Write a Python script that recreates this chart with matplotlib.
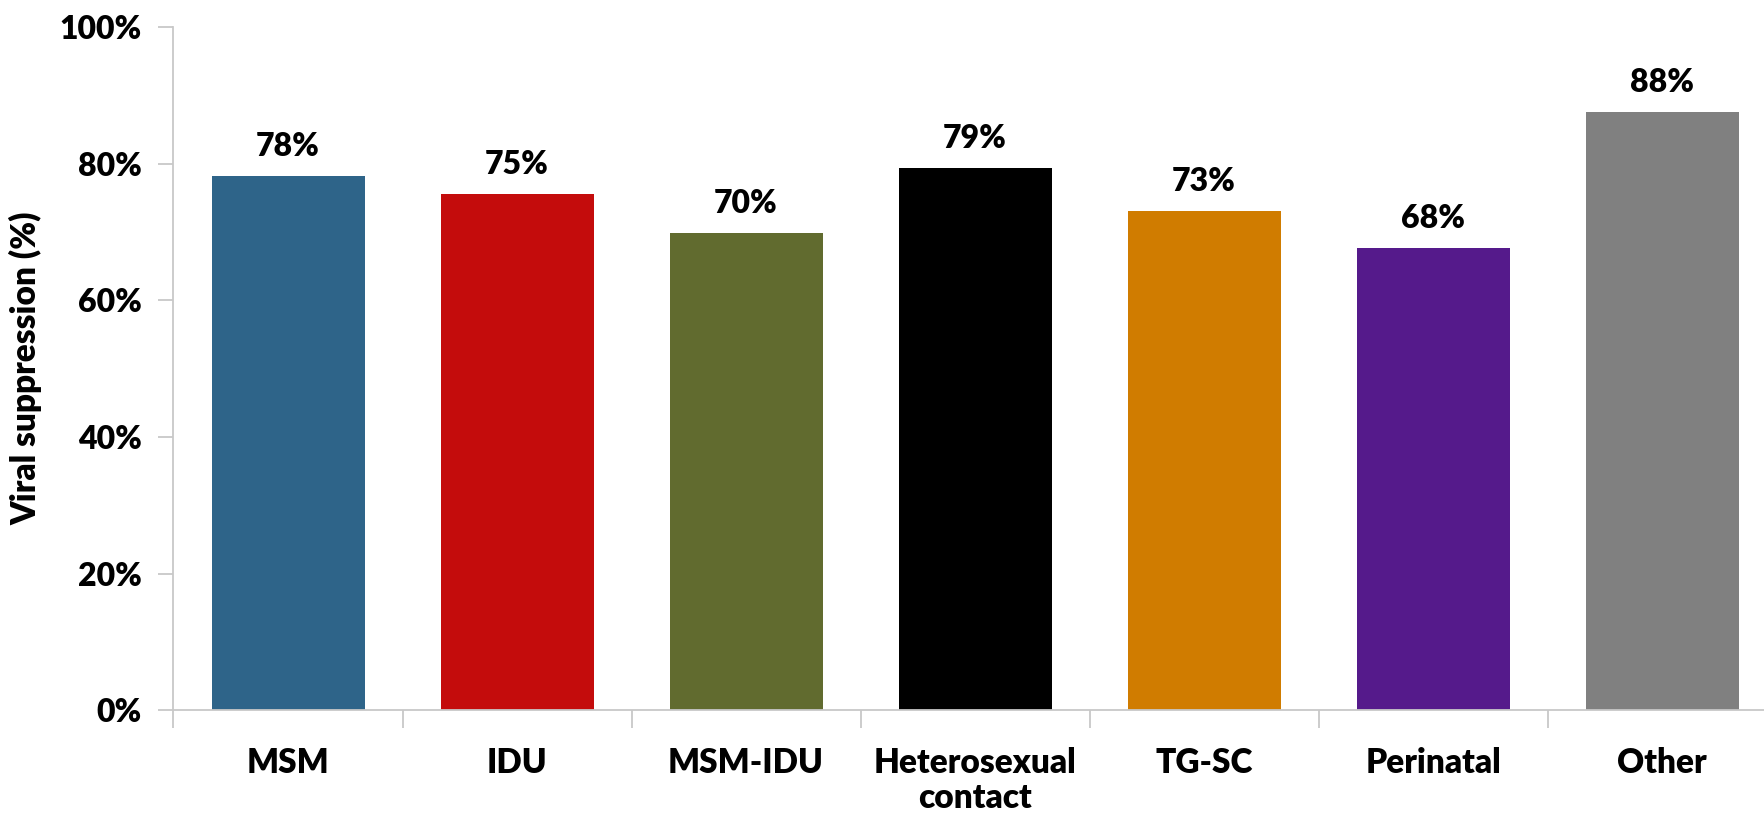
import matplotlib
matplotlib.use('Agg')
import matplotlib.pyplot as plt
from matplotlib.ticker import FuncFormatter, FixedLocator

# categories and viral suppression (%)
groups = ['MSM', 'IDU', 'MSM-IDU', 'Heterosexual\ncontact', 'TG-SC', 'Perinatal', 'Other']
suppr = [78.2, 75.5, 69.8, 79.4, 73.1, 67.6, 87.6]
labels = ['78%', '75%', '70%', '79%', '73%', '68%', '88%']
colors = ['#2E6489', '#C40C0C', '#616B2F', '#000000', '#D07C00', '#551A8B', '#808080']

plt.rcParams['font.family'] = ['Lato', 'DejaVu Sans']
W = 'heavy'

fig = plt.figure(figsize=(17.65, 8.16), dpi=100)
ax = fig.add_axes([0.0983, 0.1294, 0.9083, 0.8375])

x = list(range(len(groups)))
ax.bar(x, suppr, width=0.668, color=colors, zorder=2)
for xi, v, lab in zip(x, suppr, labels):
    ax.text(xi, v + 2.2, lab, ha='center', va='bottom', fontsize=23, fontweight=W)

ax.set_xlim(-0.5, len(groups) - 0.5)
ax.set_ylim(0, 100)
ax.set_yticks([0, 20, 40, 60, 80, 100])
ax.yaxis.set_major_formatter(FuncFormatter(lambda v, p: '%d%%' % v))
ax.set_xticks(x)
ax.set_xticklabels(groups, fontsize=24, fontweight=W, linespacing=1.15)
ax.xaxis.set_minor_locator(FixedLocator([i - 0.5 for i in range(len(groups) + 1)]))
ax.tick_params(axis='x', which='major', length=0, pad=26)
ax.tick_params(axis='x', which='minor', length=13, color='#C8C8C8', width=1.3)
ax.tick_params(axis='y', length=11, color='#C8C8C8', width=1.3, labelsize=23, pad=12)
for lab in ax.get_yticklabels():
    lab.set_fontweight(W)

for s in ['top', 'right']:
    ax.spines[s].set_visible(False)
for s in ['left', 'bottom']:
    ax.spines[s].set_color('#C8C8C8')
    ax.spines[s].set_linewidth(1.3)

ax.set_ylabel('Viral suppression (%)', fontsize=24, fontweight=W, labelpad=12)

fig.savefig('out.png', dpi=100)
